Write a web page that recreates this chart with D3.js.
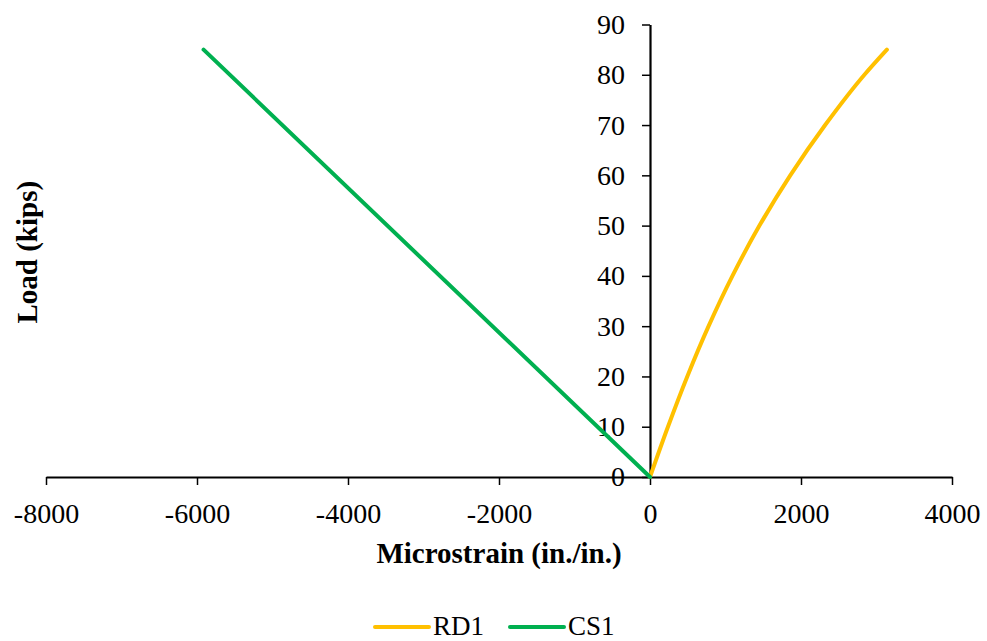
<!DOCTYPE html>
<html>
<head>
<meta charset="utf-8">
<script src="https://cdn.jsdelivr.net/npm/d3@7"></script>
<style>
  html, body { margin: 0; padding: 0; background: #fff; }
  svg { display: block; }
  text { font-family: "Liberation Serif", "Times New Roman", serif; fill: #000; }
</style>
</head>
<body>
<svg id="chart" width="987" height="641"></svg>
<script>
// ---- data ----
const rd1Strain = [0, 238, 494, 776, 1092, 1450, 1858, 2320, 2840, 3138];
const rd1Load   = [0, 10, 20, 30, 40, 50, 60, 70, 80, 85];
const cs1Strain = [0, -5913];
const cs1Load   = [0, 85];
const xTicks = [-8000, -6000, -4000, -2000, 0, 2000, 4000];
const yTicks = [0, 10, 20, 30, 40, 50, 60, 70, 80, 90];
const seriesNames = ["RD1", "CS1"];
const seriesColors = ["#FFC000", "#00B050"];

// ---- chart ----
const svg = d3.select("#chart");
const x = d3.scaleLinear().domain([-8000, 4000]).range([46, 952]);
const y = d3.scaleLinear().domain([0, 90]).range([477, 24.5]);
const FS = 28;

// x axis
const gx = svg.append("g")
  .attr("transform", `translate(0,${y(0)})`)
  .call(d3.axisBottom(x).tickValues(xTicks).tickSize(8).tickPadding(18)
        .tickSizeOuter(0).tickFormat(d => String(d)));
gx.select(".domain").attr("stroke", "#000").attr("stroke-width", 2.2);
gx.selectAll(".tick line").attr("stroke", "#000").attr("stroke-width", 1.5);
gx.selectAll(".tick text").attr("font-size", FS).attr("font-family", "Liberation Serif");

// y axis
const gy = svg.append("g")
  .attr("transform", `translate(${x(0)},0)`)
  .call(d3.axisLeft(y).tickValues(yTicks).tickSize(8).tickPadding(17)
        .tickSizeOuter(0).tickFormat(d => String(d)));
gy.select(".domain").attr("stroke", "#000").attr("stroke-width", 2.2);
gy.selectAll(".tick line").attr("stroke", "#000").attr("stroke-width", 1.5);
gy.selectAll(".tick text").attr("font-size", FS).attr("font-family", "Liberation Serif");

// axis titles
svg.append("text")
  .attr("x", (x.range()[0] + x.range()[1]) / 2)
  .attr("y", 563)
  .attr("text-anchor", "middle")
  .attr("font-size", 29)
  .attr("font-weight", "bold")
  .text("Microstrain (in./in.)");

svg.append("text")
  .attr("transform", `translate(37,${(y.range()[0] + y.range()[1]) / 2 + 1.5}) rotate(-90)`)
  .attr("text-anchor", "middle")
  .attr("font-size", 29)
  .attr("font-weight", "bold")
  .text("Load (kips)");

// series
const line = d3.line().x(d => x(d[0])).y(d => y(d[1])).curve(d3.curveMonotoneY);
const seriesData = [
  rd1Strain.map((s, i) => [s, rd1Load[i]]),
  cs1Strain.map((s, i) => [s, cs1Load[i]])
];
seriesData.forEach((pts, i) => {
  svg.append("path")
    .datum(pts)
    .attr("d", line)
    .attr("fill", "none")
    .attr("stroke", seriesColors[i])
    .attr("stroke-width", 4)
    .attr("stroke-linecap", "round")
    .attr("stroke-linejoin", "round");
});

// legend
const legendX = [375, 510];
const legendY = 627;
seriesNames.forEach((name, i) => {
  svg.append("line")
    .attr("x1", legendX[i]).attr("x2", legendX[i] + 54)
    .attr("y1", legendY).attr("y2", legendY)
    .attr("stroke", seriesColors[i])
    .attr("stroke-width", 4)
    .attr("stroke-linecap", "round");
  svg.append("text")
    .attr("x", legendX[i] + 58)
    .attr("y", 635)
    .attr("font-size", 27)
    .text(name);
});
</script>
</body>
</html>
